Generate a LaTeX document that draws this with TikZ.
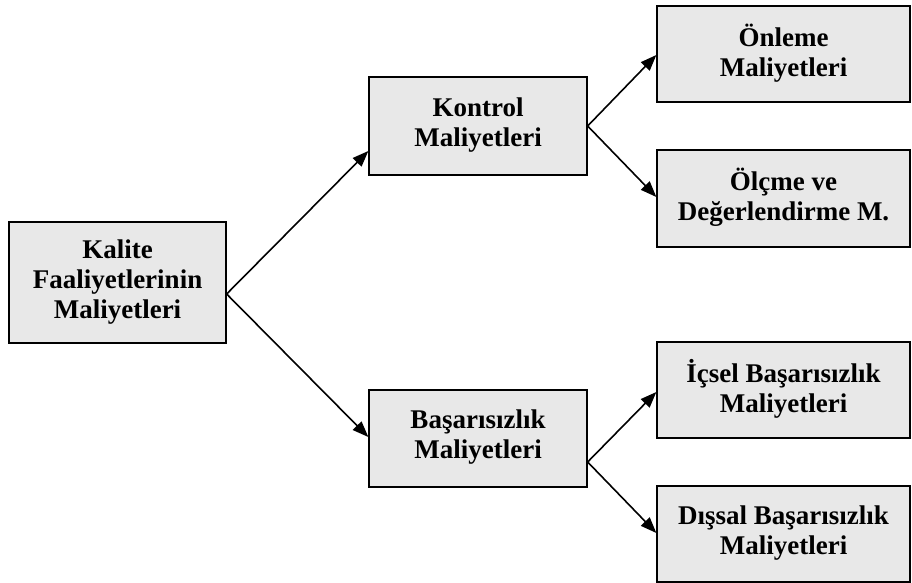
\documentclass[tikz,border=0pt]{standalone}
\usepackage{fontspec}
\setmainfont{Liberation Serif}
\usetikzlibrary{arrows.meta}
\definecolor{boxfill}{RGB}{232,232,232}
\tikzset{
  box/.style={draw=black, line width=1.3pt, fill=boxfill, rectangle, align=center,
    inner sep=0pt, font=\bfseries\fontsize{27}{30}\selectfont},
  conn/.style={line width=1.6pt, -{Triangle[length=16pt,width=12pt]}}
}
\begin{document}
\begin{tikzpicture}[x=1pt,y=-1pt]
\useasboundingbox (0,0) rectangle (912,583);
\node[box, minimum width=217pt, minimum height=121pt] (kal) at (117.5,282.5) {Kalite\\Faaliyetlerinin\\Maliyetleri};
\node[box, minimum width=218pt, minimum height=98pt, text depth=8pt] (kon) at (478,126) {Kontrol\\Maliyetleri};
\node[box, minimum width=218pt, minimum height=97pt, text depth=8pt] (bas) at (478,438.5) {Başarısızlık\\Maliyetleri};
\node[box, minimum width=253pt, minimum height=96pt, text depth=8pt] (onl) at (783.5,54) {Önleme\\Maliyetleri};
\node[box, minimum width=253pt, minimum height=97pt, text depth=8pt] (olc) at (783.5,198.5) {Ölçme ve\\Değerlendirme M.};
\node[box, minimum width=253pt, minimum height=96pt, text depth=8pt] (ics) at (783.5,390) {İçsel Başarısızlık\\Maliyetleri};
\node[box, minimum width=253pt, minimum height=96pt, text depth=8pt] (dis) at (783.5,534) {Dışsal Başarısızlık\\Maliyetleri};
\draw[conn] ([yshift=-11.5pt]kal.east) -- ([yshift=-25pt]kon.west);
\draw[conn] ([yshift=-11.5pt]kal.east) -- ([yshift=1.5pt]bas.west);
\draw[conn] (kon.east) -- ([yshift=-1pt]onl.west);
\draw[conn] (kon.east) -- ([yshift=1.5pt]olc.west);
\draw[conn] ([yshift=-23.5pt]bas.east) -- ([yshift=-2pt]ics.west);
\draw[conn] ([yshift=-23.5pt]bas.east) -- ([yshift=1pt]dis.west);
\end{tikzpicture}
\end{document}
